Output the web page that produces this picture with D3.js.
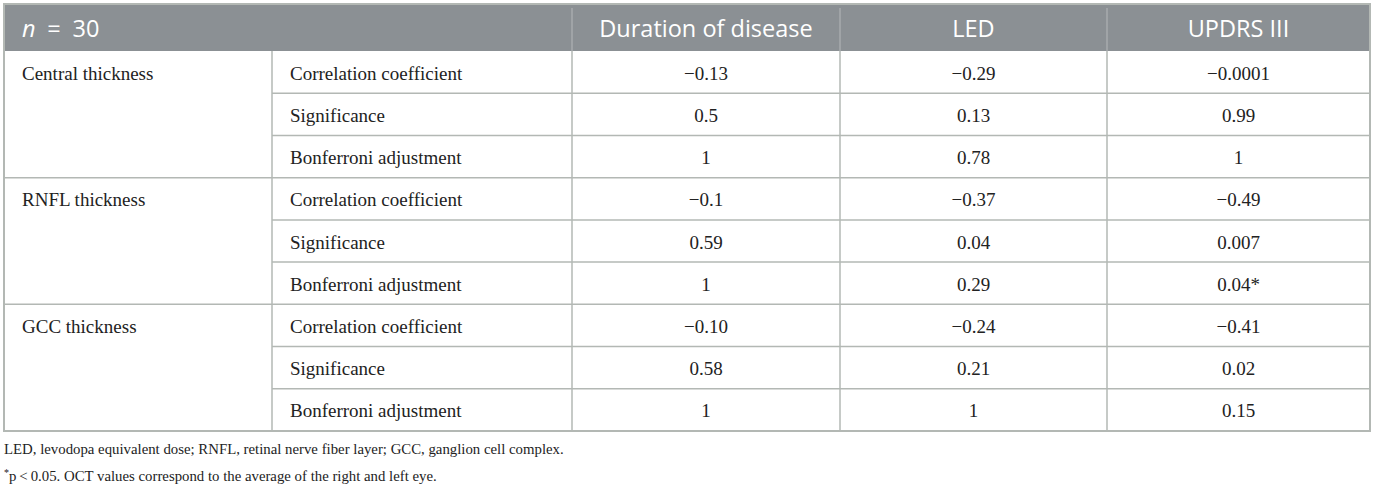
<!DOCTYPE html>
<html>
<head>
<meta charset="utf-8">
<script src="https://cdn.jsdelivr.net/npm/d3@7"></script>
<style>
  body { margin: 0; background: #fff; }
  svg { display: block; }
</style>
</head>
<body>
<div id="table-container"></div>
<script>
// table content
var headers = ["Duration of disease", "LED", "UPDRS III"];
var groups = ["Central thickness", "RNFL thickness", "GCC thickness"];
var measures = ["Correlation coefficient", "Significance", "Bonferroni adjustment"];
var durationValues = ["\u22120.13", "0.5", "1", "\u22120.1", "0.59", "1", "\u22120.10", "0.58", "1"];
var ledValues = ["\u22120.29", "0.13", "0.78", "\u22120.37", "0.04", "0.29", "\u22120.24", "0.21", "1"];
var updrsValues = ["\u22120.0001", "0.99", "1", "\u22120.49", "0.007", "0.04*", "\u22120.41", "0.02", "0.15"];
var footnote1 = "LED, levodopa equivalent dose; RNFL, retinal nerve fiber layer; GCC, ganglion cell complex.";
var footnote2 = "p\u2009<\u20090.05. OCT values correspond to the average of the right and left eye.";

var W = 1380, H = 489;
var tLeft = 4, tRight = 1370, tTop = 4, headBottom = 51, tBottom = 431;
var colEdges = [tLeft, 272, 572, 840, 1107, tRight];
var lineColor = "#b3b8b4";
var serif = "'Liberation Serif', 'DejaVu Serif', serif";
var sans = "'Open Sans', 'Noto Sans', sans-serif";
var bodySize = 19;
var headSize = 23.5;

var svg = d3.select("#table-container")
    .append("svg")
    .attr("width", W)
    .attr("height", H);

var rowCount = groups.length * measures.length;
var y = d3.scaleBand()
    .domain(d3.range(rowCount))
    .range([headBottom, tBottom]);

// header band
svg.append("rect")
    .attr("x", tLeft).attr("y", tTop)
    .attr("width", tRight - tLeft).attr("height", headBottom - tTop)
    .attr("fill", "#8b9094");

// header separators
svg.selectAll(".hsep")
    .data(colEdges.slice(2, 5))
    .enter().append("line")
    .attr("x1", d => d).attr("x2", d => d)
    .attr("y1", tTop + 4).attr("y2", headBottom)
    .attr("stroke", "#a7abae").attr("stroke-width", 1.5);

var nText = svg.append("text")
    .attr("x", 22).attr("y", 28)
    .attr("dominant-baseline", "central")
    .attr("font-family", sans).attr("font-size", headSize)
    .attr("fill", "#fff");
nText.append("tspan").attr("font-style", "italic").text("n");
nText.append("tspan").text("\u2002=\u200230");

svg.selectAll(".htext")
    .data(headers)
    .enter().append("text")
    .attr("x", (d, i) => (colEdges[i + 2] + colEdges[i + 3]) / 2)
    .attr("y", 28)
    .attr("text-anchor", "middle")
    .attr("dominant-baseline", "central")
    .attr("font-family", sans).attr("font-size", headSize)
    .attr("fill", "#fff")
    .text(d => d);

// row lines (not through the group column except between groups)
d3.range(1, rowCount).forEach(function(i) {
    var yy = y(i);
    var x0 = (i % measures.length === 0) ? tLeft : colEdges[1];
    svg.append("line")
        .attr("x1", x0).attr("x2", tRight)
        .attr("y1", yy).attr("y2", yy)
        .attr("stroke", lineColor).attr("stroke-width", 1.5);
});

// column lines in the body
colEdges.slice(1, 5).forEach(function(x) {
    svg.append("line")
        .attr("x1", x).attr("x2", x)
        .attr("y1", headBottom).attr("y2", tBottom)
        .attr("stroke", lineColor).attr("stroke-width", 1.5);
});

// outer border
svg.append("rect")
    .attr("x", tLeft).attr("y", tTop)
    .attr("width", tRight - tLeft).attr("height", tBottom - tTop)
    .attr("fill", "none")
    .attr("stroke", lineColor).attr("stroke-width", 2);

var bodyColor = "#222";

// group labels
svg.selectAll(".group")
    .data(groups)
    .enter().append("text")
    .attr("x", 22)
    .attr("y", (d, i) => y(i * measures.length) + y.bandwidth() / 2 + 1)
    .attr("dominant-baseline", "central")
    .attr("font-family", serif).attr("font-size", bodySize)
    .attr("fill", bodyColor)
    .text(d => d);

// measure labels
svg.selectAll(".measure")
    .data(d3.range(rowCount))
    .enter().append("text")
    .attr("x", 290)
    .attr("y", d => y(d) + y.bandwidth() / 2 + 1)
    .attr("dominant-baseline", "central")
    .attr("font-family", serif).attr("font-size", bodySize)
    .attr("fill", bodyColor)
    .text(d => measures[d % measures.length]);

// value columns
[durationValues, ledValues, updrsValues].forEach(function(vals, c) {
    var cx = (colEdges[c + 2] + colEdges[c + 3]) / 2;
    svg.selectAll(".val" + c)
        .data(vals)
        .enter().append("text")
        .attr("x", cx)
        .attr("y", (d, i) => y(i) + y.bandwidth() / 2 + 1)
        .attr("text-anchor", "middle")
        .attr("dominant-baseline", "central")
        .attr("font-family", serif).attr("font-size", bodySize)
        .attr("fill", bodyColor)
        .text(d => d);
});

// footnotes
svg.append("text")
    .attr("x", 4).attr("y", 449)
    .attr("dominant-baseline", "central")
    .attr("font-family", serif).attr("font-size", 14.8)
    .attr("fill", bodyColor)
    .text(footnote1);

var f2 = svg.append("text")
    .attr("x", 4).attr("y", 476)
    .attr("dominant-baseline", "central")
    .attr("font-family", serif).attr("font-size", 14.8)
    .attr("fill", bodyColor);
f2.append("tspan").attr("font-size", 10).attr("dy", -4).text("*");
f2.append("tspan").attr("dy", 4).text(footnote2);
</script>
</body>
</html>
